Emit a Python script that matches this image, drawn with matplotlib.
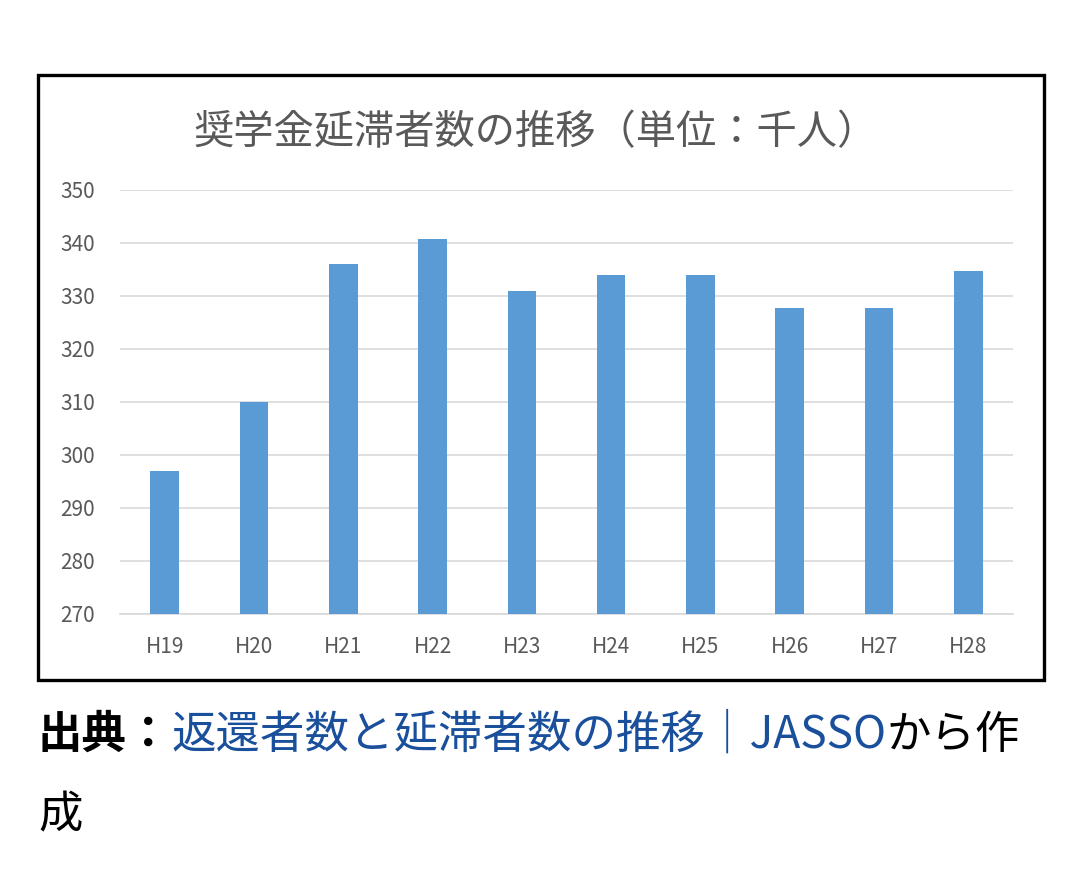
import matplotlib
matplotlib.use("Agg")
import matplotlib.pyplot as plt
from matplotlib.patches import Rectangle

plt.rcParams['font.family'] = ['Noto Sans CJK JP', 'DejaVu Sans']

years = ["H19", "H20", "H21", "H22", "H23", "H24", "H25", "H26", "H27", "H28"]
delinquents = [297, 310, 336, 340.7, 331, 334, 334, 327.7, 327.7, 334.8]
y_ticks = [270, 280, 290, 300, 310, 320, 330, 340, 350]

fig = plt.figure(figsize=(10.8, 8.9), dpi=100)
W, H = 1080, 890

# chart frame
fig.patches.append(Rectangle((38 / W, 1 - 680 / H), (1044 - 38) / W, (680 - 75) / H,
                             transform=fig.transFigure, fill=False,
                             edgecolor="black", linewidth=2.4))

ax = fig.add_axes([120 / W, 1 - 614 / H, (1013 - 120) / W, (614 - 190) / H])
x = range(len(years))
ax.bar(x, delinquents, width=0.32, color="#5B9BD5", zorder=3)
ax.set_xlim(-0.5, len(years) - 0.5)
ax.set_ylim(270, 350)
ax.set_yticks(y_ticks)
ax.set_xticks(list(x))
ax.set_xticklabels(years)
ax.grid(axis="y", color="#d9d9d9", linewidth=1.2, zorder=0)
for s in ["top", "right", "left"]:
    ax.spines[s].set_visible(False)
ax.spines["bottom"].set_color("#d9d9d9")
ax.spines["bottom"].set_linewidth(1.2)
ax.tick_params(axis="both", length=0, labelsize=15, colors="#595959")
ax.tick_params(axis="y", pad=18)
ax.tick_params(axis="x", pad=16)

fig.text(536 / W, 1 - 133 / H, "奨学金延滞者数の推移（単位：千人）", ha="center", va="center",
         fontsize=29, color="#595959")

# caption with link
fig.canvas.draw()
renderer = fig.canvas.get_renderer()
parts = [("出典：", "black", "bold"),
         ("返還者数と延滞者数の推移｜JASSO", "#1a4f9c", "normal"),
         ("から作", "black", "normal")]
xpos = 38
for txt, col, wt in parts:
    t = fig.text(xpos / W, 1 - 735 / H, txt, ha="left", va="center",
                 fontsize=32, color=col, fontweight=wt)
    xpos = t.get_window_extent(renderer).x1
fig.text(38 / W, 1 - 815 / H, "成", ha="left", va="center", fontsize=32, color="black")

fig.savefig("out.png", dpi=100)
